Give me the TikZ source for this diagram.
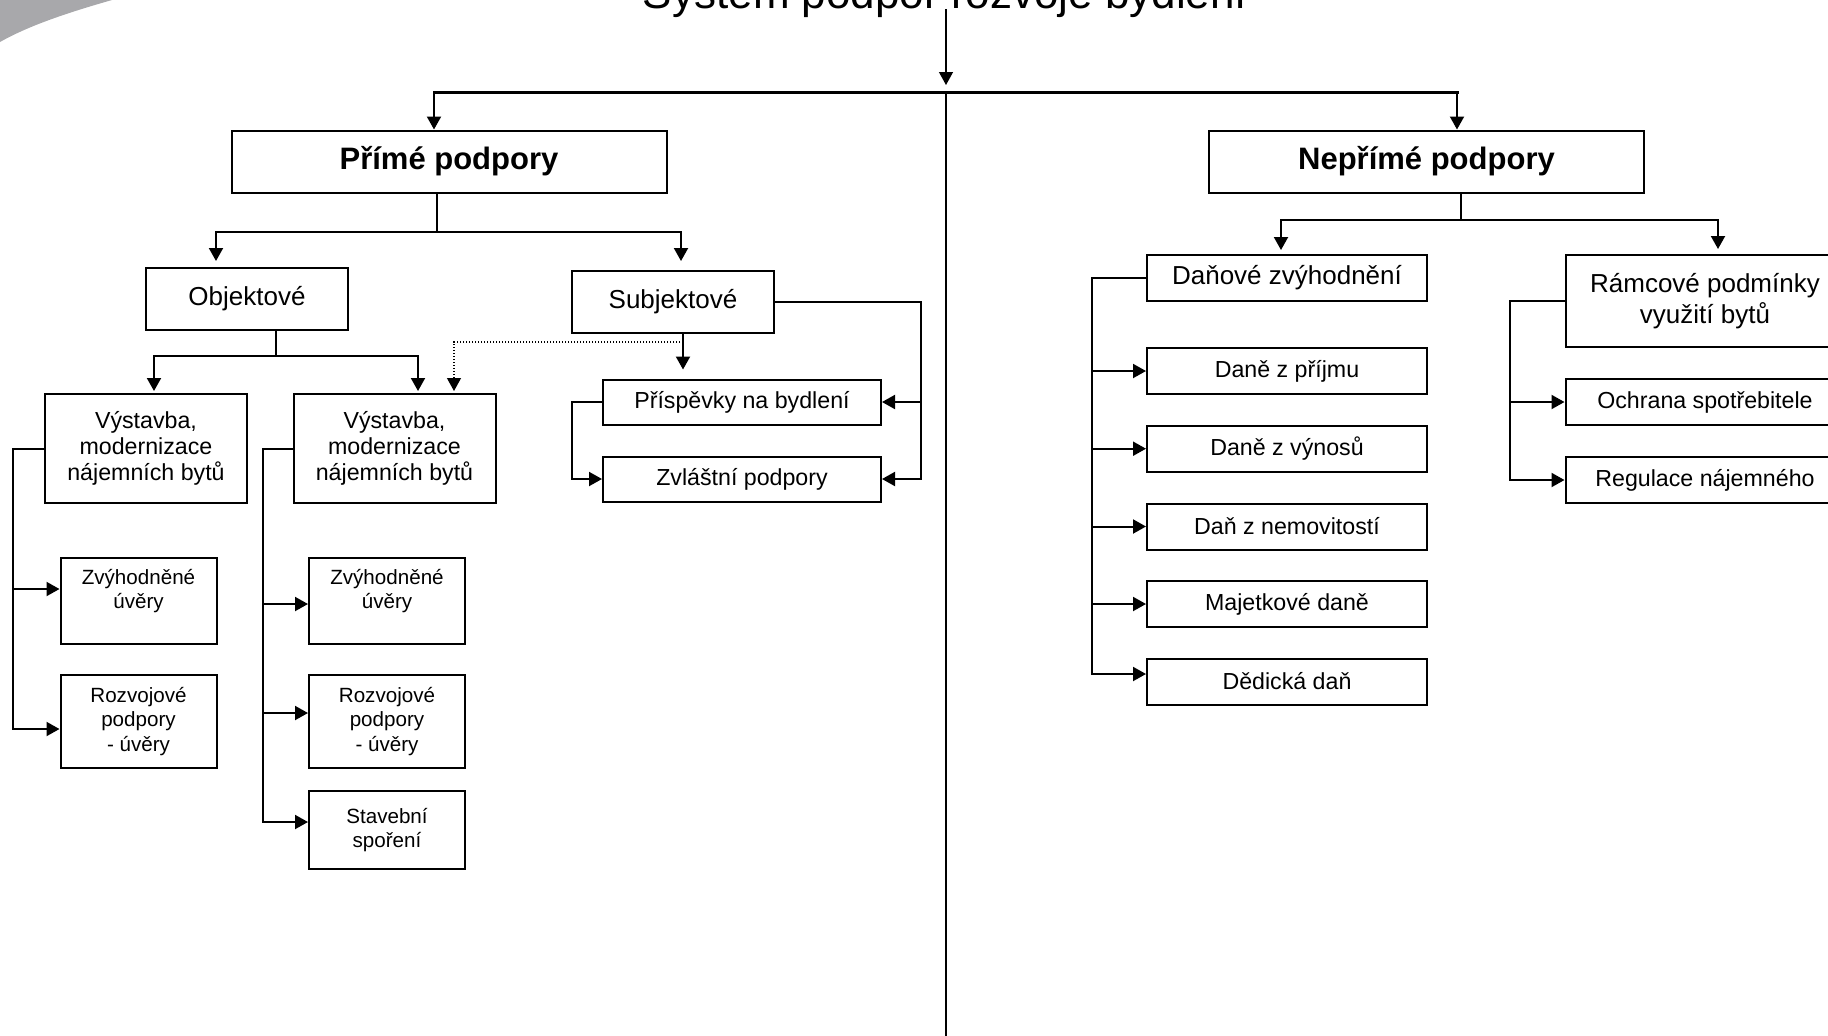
\documentclass[tikz,border=0pt]{standalone}
\usepackage{fontspec}
\setmainfont{Liberation Sans}
\usetikzlibrary{arrows.meta,calc}
\definecolor{swoopgray}{RGB}{168,168,171}

\begin{document}
\begin{tikzpicture}[x=0.5pt, y=-0.5pt,
  box/.style={draw, line width=1pt, align=center, inner sep=0pt},
  head/.style={box, minimum width=217.5pt, minimum height=31pt, font=\fontsize{15.5}{18}\selectfont\bfseries},
  lvl/.style={box, minimum width=101pt, minimum height=31pt, font=\fontsize{13}{15.5}\selectfont},
  wide/.style={box, minimum width=140pt, minimum height=23pt, font=\fontsize{11.6}{13.2}\selectfont},
  tall/.style={box, minimum width=101pt, minimum height=54.5pt, font=\fontsize{11.6}{13.1}\selectfont},
  leaf/.style={box, minimum width=78pt, font=\fontsize{10.3}{12.1}\selectfont},
  conn/.style={line width=1pt, line cap=rect},
  flow/.style={conn, -{Triangle[length=6.5pt, width=7pt]}},
  side/.style={flow, line cap=butt, line width=0.6pt, dash pattern=on 0.6pt off 0.9pt}]
  \useasboundingbox (0,0) rectangle (1828,1035);
  % corner swoosh
  \fill[swoopgray] (0,0) -- (112,0) .. controls (70,12) and (30,25) .. (0,42) -- cycle;
  % title and heads
  \node[font=\fontsize{22}{26}\selectfont, anchor=base] (title) at (945,8) {Systém podpor rozvoje bydlení};
  \node[head] (prime)   at (449,161.5)  {Přímé podpory};
  \node[head] (neprime) at (1426.5,161.5) {Nepřímé podpory};
  % direct supports
  \node[lvl] (obj)  at (247,299) {Objektové};
  \node[lvl] (subj) at (673,302) {Subjektové};
  \node[tall] (vyst1) at (146,448.5)   {Výstavba,\\modernizace\\nájemních bytů};
  \node[tall] (vyst2) at (394.5,448.5) {Výstavba,\\modernizace\\nájemních bytů};
  \node[leaf, minimum height=43pt]   (zvy1) at (138.5,601)   {Zvýhodněné\\úvěry\\\mbox{}};
  \node[leaf, minimum height=46.5pt] (roz1) at (138.5,721.5) {Rozvojové\\podpory\\- úvěry};
  \node[leaf, minimum height=43pt]   (zvy2) at (387,601)     {Zvýhodněné\\úvěry\\\mbox{}};
  \node[leaf, minimum height=46.5pt] (roz2) at (387,721.5)   {Rozvojové\\podpory\\- úvěry};
  \node[leaf, minimum height=39pt]   (stav) at (387,830)     {Stavební\\spoření};
  \node[wide, minimum width=139pt, minimum height=22.5pt] (prisp) at (742,402) {Příspěvky na bydlení};
  \node[wide, minimum width=139pt, minimum height=22.5pt] (zvl)   at (742,479) {Zvláštní podpory};
  % indirect supports
  \node[lvl, minimum width=140pt, minimum height=23pt] (danove) at (1287,278) {Daňové zvýhodnění};
  \node[wide] (prijem) at (1287,371)   {Daně z příjmu};
  \node[wide] (vynos)  at (1287,448.7) {Daně z výnosů};
  \node[wide] (nemov)  at (1287,526.5) {Daň z nemovitostí};
  \node[wide] (majet)  at (1287,604)   {Majetkové daně};
  \node[wide] (dedic)  at (1287,681.5) {Dědická daň};
  \node[lvl, minimum width=139.5pt, minimum height=46pt] (ramc) at (1705,301) {Rámcové podmínky\\využití bytů};
  \node[wide, minimum width=139.5pt] (ochr)  at (1705,402) {Ochrana spotřebitele};
  \node[wide, minimum width=139.5pt] (regul) at (1705,480) {Regulace nájemného};
  % top split
  \coordinate (hub) at (946,92);
  \coordinate (foot) at (946,1035);
  \coordinate (lt) at (434,92);
  \coordinate (rt) at (1457,92);
  \draw[flow, line width=0.65pt, shorten >=3.5pt] ($(hub |- title.base)+(0,2)$) -- (hub);
  \draw[conn, line width=1.5pt] (lt) -- (rt);
  \draw[conn] (hub) -- (foot);
  \draw[flow] (lt) -- (lt |- prime.north);
  \draw[flow] (rt) -- (rt |- neprime.north);
  % Prime podpory
  \coordinate (pj) at (437,232);
  \draw[conn] (pj |- prime.south) -- (pj);
  \draw[flow] (pj) -| ($(obj.north)+(-31,-6)$);
  \draw[flow] (pj) -| ($(subj.north)+(8,-9)$);
  \coordinate (oj) at (276,356);
  \draw[conn] (oj |- obj.south) -- (oj);
  \draw[flow] (oj) -| ($(vyst1.north)+(8,-2)$);
  \draw[flow] (oj) -| ($(vyst2.north)+(23.5,-2)$);
  \coordinate (sj) at (683,342);
  \draw[flow] (sj |- subj.south) -- ($(sj |- prisp.north)+(0,-9)$);
  \draw[side] (sj) -| ($(vyst2.north)+(59.5,-2)$);
  \draw[conn] (subj.east) -| ($(zvl.east)+(39,0)$);
  \draw[flow] ($(prisp.east)+(39,0)$) -- (prisp.east);
  \draw[flow] ($(zvl.east)+(39,0)$) -- (zvl.east);
  \draw[flow] (prisp.west) -- ++(-30,0) |- (zvl.west);
  % left columns
  \draw[conn] (vyst1.west) -- ++(-31,0) coordinate (l1);
  \draw[flow] (l1) |- ([yshift=6pt]zvy1.west);
  \draw[flow] (l1) |- ([yshift=-3.75pt]roz1.west);
  \draw[conn] (vyst2.west) -- ++(-30,0) coordinate (l2);
  \draw[flow] (l2) |- ([yshift=-1.5pt]zvy2.west);
  \draw[flow] (l2) |- ([yshift=4.25pt]roz2.west);
  \draw[flow] (l2) |- ([yshift=4pt]stav.west);
  % Neprime podpory
  \coordinate (nj) at (1461,220);
  \draw[conn] (nj |- neprime.south) -- (nj);
  \draw[flow] (nj) -| ($(danove.north)+(-6,-4)$);
  \draw[flow] (nj) -| ($(ramc.north)+(13,-5)$);
  \draw[conn] (danove.west) -- ++(-54,0) coordinate (l3);
  \foreach \n in {prijem,vynos,nemov,majet}
    \draw[flow] (l3) |- (\n.west);
  \draw[flow] (l3) |- ([yshift=3.75pt]dedic.west);
  \draw[conn] (ramc.west) -- ++(-55,0) coordinate (l4);
  \draw[flow] (l4) |- (ochr.west);
  \draw[flow] (l4) |- (regul.west);
\end{tikzpicture}
\end{document}
